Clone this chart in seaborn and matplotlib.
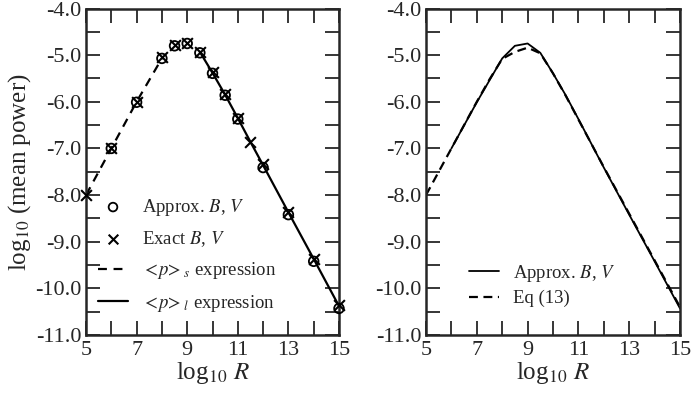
import numpy as np
import pandas as pd
import matplotlib
matplotlib.use("Agg")
import matplotlib.pyplot as plt
import seaborn as sns
from matplotlib.ticker import MultipleLocator, FormatStrFormatter

# ---- data ----
approx_x = [6, 7, 8, 8.5, 9, 9.5, 10, 10.5, 11, 12, 13, 14, 15]
approx_y = [-7.00, -6.01, -5.07, -4.80, -4.75, -4.95, -5.39, -5.86, -6.37, -7.41, -8.42, -9.42, -10.43]

exact_x = [5, 6, 7, 8, 8.5, 9, 9.5, 10, 10.5, 11, 11.5, 12, 13, 14, 15]
exact_y = [-8.00, -7.00, -6.00, -5.05, -4.78, -4.73, -4.93, -5.37, -5.84, -6.35, -6.86, -7.34, -8.36, -9.36, -10.36]

ps_x = [5, 6, 7, 8]
ps_y = [-8.00, -7.00, -6.00, -5.07]

pl_x = [9.5, 10, 10.5, 11, 11.5, 12, 13, 14, 15]
pl_y = [-4.93, -5.38, -5.85, -6.35, -6.86, -7.36, -8.37, -9.37, -10.38]

eq13_x = [5, 6, 7, 7.5, 8, 8.5, 9, 9.5, 10, 10.5, 11, 12, 13, 14, 15]
eq13_y = [-8.00, -7.00, -6.00, -5.52, -5.08, -4.93, -4.84, -4.96, -5.39, -5.87, -6.38, -7.40, -8.40, -9.40, -10.40]

xticks = [5, 7, 9, 11, 13, 15]
yticks = [-4.0, -5.0, -6.0, -7.0, -8.0, -9.0, -10.0, -11.0]

sns.set_style("ticks")
plt.rcParams['font.family'] = ['Liberation Serif', 'DejaVu Serif']
plt.rcParams['mathtext.fontset'] = 'stix'
plt.rcParams['axes.unicode_minus'] = False

fig = plt.figure(figsize=(6.92, 3.93), dpi=100)
axL = fig.add_axes([86/692, 1-335/393, 253/692, (335-8.5)/393])
axR = fig.add_axes([426/692, 1-335/393, 254/692, (335-8.5)/393])

lw = 1.6
# Left panel
sns.lineplot(x=ps_x, y=ps_y, ax=axL, color='black', lw=lw, linestyle=(0, (4, 3)),
             label=r'$<\!p\!>_s$ expression', legend=False)
sns.lineplot(x=pl_x, y=pl_y, ax=axL, color='black', lw=lw,
             label=r'$<\!p\!>_l$ expression', legend=False)
sns.scatterplot(x=approx_x, y=approx_y, ax=axL, marker='o', s=48, facecolor='none',
                edgecolor='black', linewidth=1.3, label='Approx. $B$, $V$', legend=False,
                clip_on=False, zorder=3)
sns.scatterplot(x=exact_x, y=exact_y, ax=axL, marker='x', s=60, color='black',
                linewidth=1.5, label='Exact $B$, $V$', legend=False, clip_on=False, zorder=4)

h, l = axL.get_legend_handles_labels()
order = [l.index('Approx. $B$, $V$'), l.index('Exact $B$, $V$'),
         l.index(r'$<\!p\!>_s$ expression'), l.index(r'$<\!p\!>_l$ expression')]
fig.legend([h[i] for i in order], [l[i] for i in order], loc='upper left',
           bbox_to_anchor=(98/692, 1-197/393), frameon=False, fontsize=13.5,
           handlelength=1.6, handletextpad=0.75, labelspacing=0.6, borderpad=0,
           borderaxespad=0, markerscale=0.9)

# Right panel
sns.lineplot(x=approx_x, y=approx_y, ax=axR, color='black', lw=1.3,
             label='Approx. $B$, $V$', legend=False)
sns.lineplot(x=eq13_x, y=eq13_y, ax=axR, color='black', lw=1.6, linestyle=(0, (4, 2.5)),
             label='Eq (13)', legend=False)
fig.legend(*axR.get_legend_handles_labels(), loc='upper left',
           bbox_to_anchor=(469/692, 1-263/393), frameon=False, fontsize=13.5,
           handlelength=1.6, handletextpad=0.75, labelspacing=0.32, borderpad=0,
           borderaxespad=0)

for ax in (axL, axR):
    ax.set_xlim(5, 15)
    ax.set_ylim(-11, -4)
    ax.set_xticks(xticks)
    ax.set_yticks(yticks)
    ax.xaxis.set_minor_locator(MultipleLocator(1))
    ax.yaxis.set_minor_locator(MultipleLocator(0.5))
    ax.yaxis.set_major_formatter(FormatStrFormatter('%.1f'))
    ax.tick_params(which='both', direction='in', top=True, right=True,
                   length=10, width=1.3, labelsize=16, pad=3)
    ax.tick_params(axis='x', which='major', pad=4)
    for s in ax.spines.values():
        s.set_linewidth(1.8)
        s.set_visible(True)
    ax.set_xlabel(r'log$_{10}$ $R$', fontsize=18, labelpad=0)

axL.set_ylabel(r'log$_{10}$ (mean power)', fontsize=18, labelpad=2)
axR.set_ylabel('')

fig.savefig('out.png', dpi=100)
